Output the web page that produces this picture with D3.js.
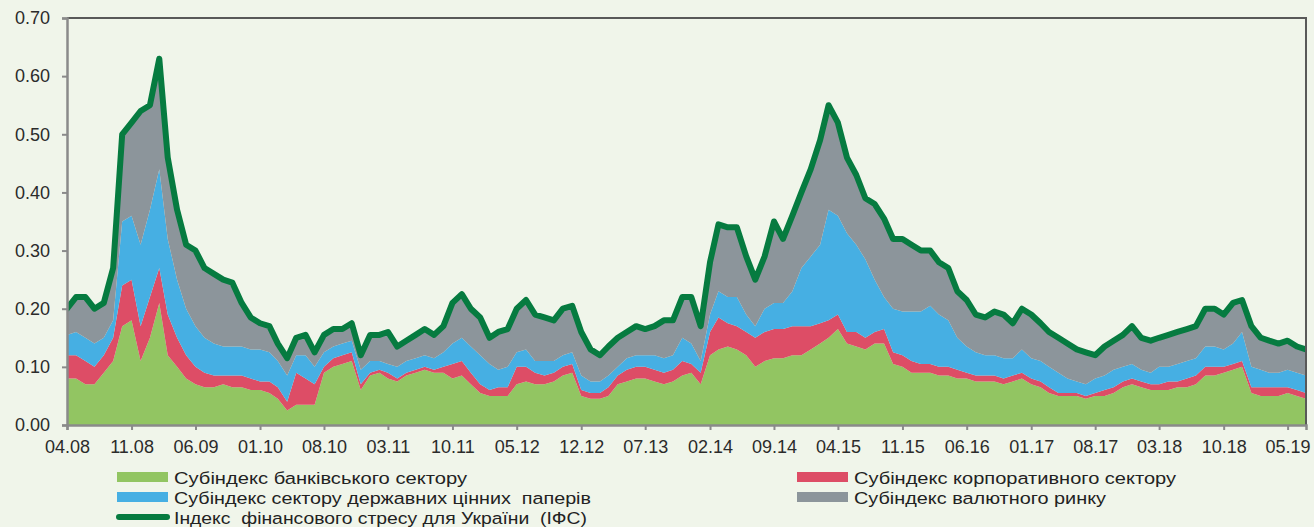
<!DOCTYPE html>
<html><head><meta charset="utf-8">
<script src="https://cdn.jsdelivr.net/npm/d3@7"></script>
<style>
html,body{margin:0;padding:0;background:#F0F5EA;}
svg{display:block;}
</style></head>
<body>
<script>
// Monthly observations, April 2008 .. July 2019 (136 months)
const startMonth = [2008, 3];
const bank = [0.08,0.08,0.07,0.07,0.09,0.11,0.17,0.18,0.11,0.15,0.21,0.12,0.10,0.08,0.07,0.065,0.065,0.07,0.065,
0.065,0.06,0.06,0.055,0.045,0.025,0.035,0.035,0.035,0.09,0.10,0.105,0.11,0.06,0.085,0.09,0.08,0.075,0.085,0.09,0.095,0.09,0.09,
0.08,0.085,0.07,0.055,0.05,0.05,0.05,0.07,0.075,0.07,0.07,0.075,0.085,0.09,0.05,0.045,0.045,0.05,0.07,0.075,0.08,0.08,0.075,
0.07,0.075,0.085,0.09,0.07,0.12,0.13,0.135,0.13,0.12,0.10,0.11,0.115,0.115,0.12,0.12,0.13,0.14,0.15,0.165,0.14,0.135,0.13,
0.14,0.14,0.105,0.10,0.09,0.09,0.09,0.085,0.085,0.08,0.08,0.075,0.075,0.075,0.07,0.075,0.08,0.07,0.065,0.055,0.05,0.05,0.05,
0.045,0.05,0.05,0.055,0.065,0.07,0.065,0.06,0.06,0.06,0.065,0.065,0.07,0.085,0.085,0.09,0.095,0.10,0.055,0.05,0.05,0.05,0.055,0.05,0.045];
const corporate = [0.04,0.04,0.04,0.03,0.03,0.04,0.07,0.07,0.06,0.07,0.06,0.07,0.05,0.04,0.03,0.025,0.02,0.015,0.02,
0.02,0.02,0.015,0.02,0.02,0.015,0.055,0.045,0.035,0.01,0.015,0.015,0.015,0.01,0.005,0.005,0.01,0.005,0.005,0.005,0.005,0.005,0.01,
0.025,0.025,0.02,0.015,0.01,0.015,0.015,0.03,0.025,0.02,0.015,0.015,0.015,0.015,0.01,0.01,0.01,0.015,0.015,0.02,0.02,0.02,0.02,
0.02,0.02,0.025,0.015,0.02,0.04,0.055,0.04,0.04,0.04,0.05,0.05,0.05,0.05,0.05,0.05,0.04,0.035,0.03,0.025,0.02,0.025,0.02,
0.02,0.025,0.02,0.02,0.02,0.015,0.015,0.015,0.015,0.015,0.01,0.01,0.01,0.01,0.01,0.01,0.01,0.01,0.01,0.01,0.005,0.005,0.005,
0.005,0.005,0.01,0.01,0.01,0.01,0.01,0.01,0.01,0.015,0.01,0.015,0.015,0.015,0.015,0.01,0.01,0.01,0.01,0.015,0.015,0.015,0.01,0.01,0.01];
const government = [0.035,0.04,0.04,0.04,0.03,0.03,0.11,0.11,0.14,0.15,0.17,0.13,0.10,0.08,0.07,0.06,0.055,0.05,0.05,
0.05,0.05,0.055,0.05,0.045,0.045,0.03,0.04,0.03,0.025,0.02,0.02,0.02,0.025,0.02,0.015,0.015,0.02,0.02,0.02,0.02,0.02,0.025,
0.035,0.04,0.045,0.05,0.045,0.03,0.035,0.025,0.03,0.02,0.025,0.02,0.02,0.02,0.025,0.02,0.02,0.02,0.015,0.02,0.02,0.02,0.025,
0.025,0.025,0.04,0.035,0.02,0.03,0.045,0.045,0.05,0.03,0.02,0.04,0.045,0.045,0.06,0.10,0.12,0.135,0.19,0.17,0.17,0.15,0.135,
0.09,0.055,0.075,0.075,0.085,0.09,0.10,0.09,0.08,0.055,0.045,0.04,0.035,0.035,0.035,0.03,0.04,0.035,0.035,0.035,0.035,0.025,0.02,
0.02,0.025,0.025,0.03,0.025,0.025,0.02,0.02,0.03,0.025,0.03,0.03,0.03,0.035,0.035,0.03,0.035,0.05,0.035,0.03,0.025,0.025,0.03,0.03,0.03];
const currency = [0.045,0.06,0.07,0.06,0.06,0.09,0.15,0.16,0.23,0.18,0.19,0.14,0.12,0.11,0.13,0.12,0.12,0.115,0.11,
0.075,0.055,0.045,0.045,0.03,0.03,0.03,0.035,0.025,0.03,0.03,0.025,0.03,0.025,0.045,0.045,0.055,0.035,0.035,0.04,0.045,0.04,0.045,
0.07,0.075,0.065,0.065,0.045,0.065,0.065,0.075,0.085,0.08,0.075,0.07,0.08,0.08,0.075,0.055,0.045,0.05,0.05,0.045,0.05,0.045,0.05,
0.065,0.06,0.07,0.08,0.06,0.09,0.115,0.12,0.12,0.10,0.08,0.09,0.14,0.11,0.13,0.13,0.15,0.18,0.18,0.16,0.13,0.12,0.105,
0.13,0.135,0.12,0.125,0.115,0.105,0.095,0.09,0.09,0.08,0.08,0.065,0.065,0.075,0.075,0.06,0.07,0.075,0.065,0.06,0.06,0.06,0.055,
0.055,0.04,0.05,0.05,0.055,0.065,0.055,0.055,0.05,0.055,0.055,0.055,0.055,0.065,0.065,0.06,0.07,0.055,0.07,0.055,0.055,0.05,0.05,0.045,0.045];
const ifs = [0.20,0.22,0.22,0.20,0.21,0.27,0.50,0.52,0.54,0.55,0.63,0.46,0.37,0.31,0.30,0.27,0.26,0.25,0.245,
0.21,0.185,0.175,0.17,0.14,0.115,0.15,0.155,0.125,0.155,0.165,0.165,0.175,0.12,0.155,0.155,0.16,0.135,0.145,0.155,0.165,0.155,0.17,
0.21,0.225,0.20,0.185,0.15,0.16,0.165,0.20,0.215,0.19,0.185,0.18,0.20,0.205,0.16,0.13,0.12,0.135,0.15,0.16,0.17,0.165,0.17,
0.18,0.18,0.22,0.22,0.17,0.28,0.345,0.34,0.34,0.29,0.25,0.29,0.35,0.32,0.36,0.40,0.44,0.49,0.55,0.52,0.46,0.43,0.39,
0.38,0.355,0.32,0.32,0.31,0.30,0.30,0.28,0.27,0.23,0.215,0.19,0.185,0.195,0.19,0.175,0.20,0.19,0.175,0.16,0.15,0.14,0.13,
0.125,0.12,0.135,0.145,0.155,0.17,0.15,0.145,0.15,0.155,0.16,0.165,0.17,0.20,0.20,0.19,0.21,0.215,0.17,0.15,0.145,0.14,0.145,0.135,0.13];
const tickLabels = ["04.08","11.08","06.09","01.10","08.10","03.11","10.11","05.12","12.12","07.13","02.14","09.14","04.15","11.15","06.16","01.17","08.17","03.18","10.18","05.19"];
const yTicks = [0,0.1,0.2,0.3,0.4,0.5,0.6,0.7];
const seriesNames = ["Субіндекс банківського сектору","Субіндекс корпоративного сектору","Субіндекс сектору державних цінних  паперів","Субіндекс валютного ринку","Індекс  фінансового стресу для України  (ІФС)"];

const colors = {bank:"#92C562", corporate:"#DD4D66", government:"#46AFE3", currency:"#8C959B", ifs:"#067B40"};

const W = 1314, H = 527;
const L = 67, R = 1306, T = 18, B = 425;

const start = new Date(startMonth[0], startMonth[1], 1);
const dates = bank.map((_, i) => d3.timeMonth.offset(start, i));
const rows = dates.map((d, i) => ({date: d, bank: bank[i], corporate: corporate[i], government: government[i], currency: currency[i], ifs: ifs[i]}));

const x = d3.scaleTime().domain([dates[0], dates[dates.length - 1]]).range([L, R]);
const y = d3.scaleLinear().domain([0, 0.7]).range([B, T]);

const svg = d3.select("body").append("svg").attr("width", W).attr("height", H);
svg.append("rect").attr("width", W).attr("height", H).attr("fill", "#F0F5EA");

svg.append("defs").append("clipPath").attr("id", "plotclip")
  .append("rect").attr("x", L).attr("y", T - 4).attr("width", R - L).attr("height", B - T + 4);

const keys = ["bank", "corporate", "government", "currency"];
const stacked = d3.stack().keys(keys)(rows);
const area = d3.area().x(d => x(d.data.date)).y0(d => y(d[0])).y1(d => y(d[1]));

const g = svg.append("g").attr("clip-path", "url(#plotclip)");
g.selectAll("path.layer").data(stacked).join("path")
  .attr("class", "layer")
  .attr("fill", d => colors[d.key])
  .attr("d", area);

g.append("path").datum(rows)
  .attr("fill", "none").attr("stroke", colors.ifs).attr("stroke-width", 6)
  .attr("stroke-linejoin", "round").attr("stroke-linecap", "round")
  .attr("d", d3.line().x(d => x(d.date)).y(d => y(d.ifs)));

// frame (top & right)
svg.append("path").attr("d", `M${L},${T}H${R}V${B}`).attr("fill", "none").attr("stroke", "#595959").attr("stroke-width", 2);

// axes
const font = "'Liberation Sans', Arial, sans-serif";
const yAxis = svg.append("g").attr("transform", `translate(${L},0)`)
  .call(d3.axisLeft(y).tickValues(yTicks).tickFormat(d3.format(".2f")).tickSize(5).tickPadding(12));
const tickDates = tickLabels.map((_, i) => dates[i * 7]);
const xAxis = svg.append("g").attr("transform", `translate(0,${B})`)
  .call(d3.axisBottom(x).tickValues(tickDates).tickFormat((d, i) => tickLabels[i]).tickSize(5).tickPadding(10));
[yAxis, xAxis].forEach(a => {
  a.select(".domain").attr("stroke", "#8a8a8a").attr("stroke-width", 2.5);
  a.selectAll(".tick line").attr("stroke", "#8a8a8a").attr("stroke-width", 2);
  a.selectAll("text").attr("fill", "#2b2b2b").style("font-family", font).style("font-size", "18px");
});

// legend
const legend = [
  {name: seriesNames[0], key: "bank", x: 117, y: 472, type: "rect", w: 293},
  {name: seriesNames[2], key: "government", x: 117, y: 492, type: "rect", w: 417},
  {name: seriesNames[4], key: "ifs", x: 117, y: 512, type: "line", w: 413},
  {name: seriesNames[1], key: "corporate", x: 797, y: 472, type: "rect", w: 322},
  {name: seriesNames[3], key: "currency", x: 797, y: 492, type: "rect", w: 252}
];
const lg = svg.append("g");
legend.forEach(it => {
  if (it.type === "rect") {
    lg.append("rect").attr("x", it.x).attr("y", it.y).attr("width", 51).attr("height", 10).attr("fill", colors[it.key]);
  } else {
    lg.append("line").attr("x1", it.x + 2).attr("x2", it.x + 50).attr("y1", it.y + 5).attr("y2", it.y + 5)
      .attr("stroke", colors[it.key]).attr("stroke-width", 6).attr("stroke-linecap", "round");
  }
  lg.append("text").attr("x", it.x + 57).attr("y", it.y + 12)
    .attr("textLength", it.w).attr("lengthAdjust", "spacingAndGlyphs")
    .style("white-space", "pre")
    .style("font-family", font).style("font-size", "17.4px").attr("fill", "#222")
    .text(it.name);
});
</script>
</body></html>
